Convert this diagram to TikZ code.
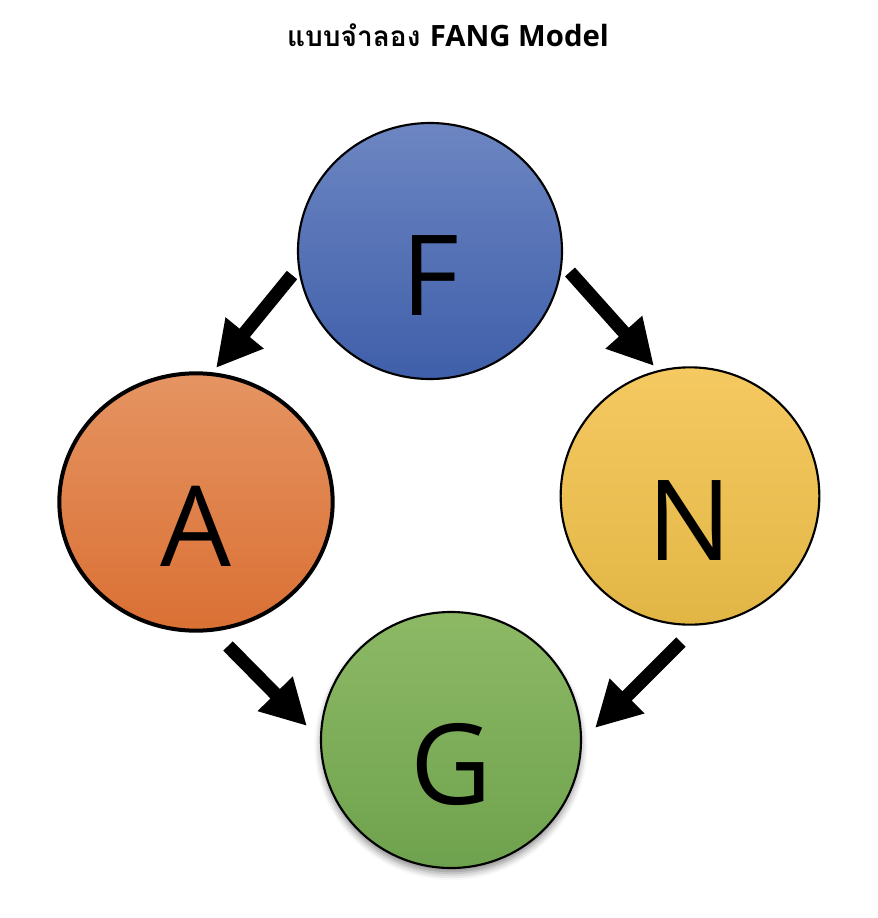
\documentclass[tikz,border=0pt]{standalone}
\usepackage{fontspec}
\newfontfamily\letterfont{Open Sans}
\newfontfamily\thaifont[Script=Thai]{Loma}
\usetikzlibrary{shapes.geometric,arrows.meta,shadows.blur}
\definecolor{fTop}{HTML}{6D86C2}
\definecolor{fBot}{HTML}{3F5FAA}
\definecolor{aTop}{HTML}{E59462}
\definecolor{aBot}{HTML}{DA7034}
\definecolor{nTop}{HTML}{F5C961}
\definecolor{nMid}{HTML}{F3C54A}
\definecolor{nBot}{HTML}{E2B645}
\definecolor{gTop}{HTML}{8DB965}
\definecolor{gBot}{HTML}{6FA24E}
\tikzset{
  bubble/.style={ellipse, draw=black, line width=1.6pt, inner sep=0pt,
    text height=96pt, text depth=0pt,
    font=\letterfont\fontsize{84}{84}\selectfont},
  blockarrow/.style={line width=10pt, line cap=butt,
    -{Triangle[width=34.5pt,length=34pt]}},
}
\begin{document}
\begin{tikzpicture}[x=0.75pt,y=-0.75pt]
\useasboundingbox (0,0) rectangle (878,918);
\node (title) at (448,35) {{\fontsize{21}{24}\selectfont\bfseries\thaifont แบบจำลอง}\hspace{7pt}{\fontsize{22}{24}\selectfont\letterfont\bfseries FANG Model}};
\node[bubble, minimum width=198pt, minimum height=192pt,
  top color=fTop, bottom color=fBot] (F) at (430,251) {F};
\node[bubble, line width=3pt, minimum width=205pt, minimum height=193pt,
  top color=aTop, bottom color=aBot] (A) at (196,502) {A};
\node[bubble, minimum width=194pt, minimum height=193pt,
  top color=nTop, middle color=nMid, bottom color=nBot] (N) at (690,496) {N};
\node[bubble, minimum width=195pt, minimum height=192pt,
  top color=gTop, bottom color=gBot,
  blur shadow={shadow xshift=0pt, shadow yshift=-4pt, shadow blur radius=5pt, shadow opacity=45}] (G) at (451,740) {G};
\coordinate (fa1) at (292,275);
\coordinate (fa2) at (216,368);
\coordinate (fn1) at (570,272);
\coordinate (fn2) at (654,366);
\coordinate (ag1) at (228,646);
\coordinate (ag2) at (307,726);
\coordinate (ng1) at (681,642);
\coordinate (ng2) at (595,728);
\draw[blockarrow] (fa1) -- (fa2);
\draw[blockarrow] (fn1) -- (fn2);
\draw[blockarrow] (ag1) -- (ag2);
\draw[blockarrow] (ng1) -- (ng2);
\end{tikzpicture}
\end{document}
